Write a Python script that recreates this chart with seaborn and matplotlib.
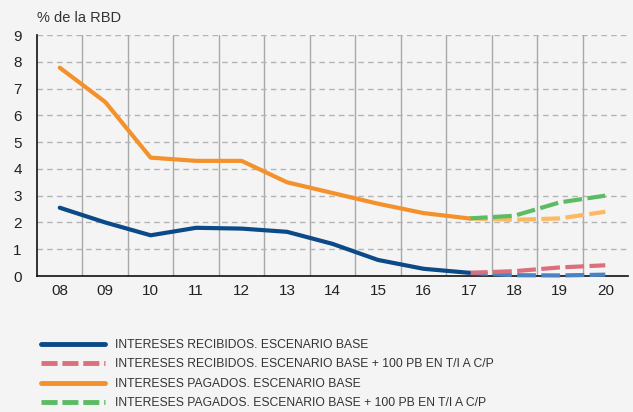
import numpy as np
import pandas as pd
import seaborn as sns
import matplotlib.pyplot as plt
from matplotlib.lines import Line2D

# data
years = ["08", "09", "10", "11", "12", "13", "14", "15", "16", "17", "18", "19", "20"]
hist_years = years[:10]
proj_years = years[9:]

recibidos_base = [2.55, 2.0, 1.52, 1.8, 1.77, 1.65, 1.2, 0.6, 0.27, 0.12]
pagados_base = [7.78, 6.5, 4.42, 4.3, 4.3, 3.5, 3.1, 2.7, 2.35, 2.15]

recibidos_100pb = [0.12, 0.18, 0.32, 0.4]
recibidos_alt = [0.12, 0.03, 0.02, 0.05]
pagados_100pb = [2.15, 2.25, 2.75, 3.0]
pagados_alt = [2.15, 2.1, 2.15, 2.4]

labels = ["INTERESES RECIBIDOS. ESCENARIO BASE",
          "INTERESES RECIBIDOS. ESCENARIO BASE + 100 PB EN T/I A C/P",
          "INTERESES PAGADOS. ESCENARIO BASE",
          "INTERESES PAGADOS. ESCENARIO BASE + 100 PB EN T/I A C/P"]

c_blue = "#0b4a87"
c_pink = "#dc6f7c"
c_orange = "#f5912b"
c_green = "#5dbb63"
c_lblue = "#4a82c3"
c_lorange = "#fdb861"

bg = "#f4f4f4"
sns.set_style("white")
plt.rcParams["font.family"] = ["Liberation Sans", "DejaVu Sans"]

fig = plt.figure(figsize=(6.33, 4.12), dpi=100, facecolor=bg)
ax = fig.add_axes([37 / 633, 1 - 276 / 412, 591 / 633, 241 / 412], facecolor=bg)

xpos = {y: i for i, y in enumerate(years)}
hx = [xpos[y] for y in hist_years]
px = [xpos[y] for y in proj_years]

dash = (4.5, 1.3)
for vals, col in [(recibidos_alt, c_lblue), (recibidos_100pb, c_pink),
                  (pagados_alt, c_lorange), (pagados_100pb, c_green)]:
    sns.lineplot(x=px, y=vals, ax=ax, color=col, lw=3, zorder=5)
    ln = ax.lines[-1]
    ln.set_dashes(dash)
    ln.set_clip_on(False)
sns.lineplot(x=hx, y=recibidos_base, ax=ax, color=c_blue, lw=3, zorder=6)
ax.lines[-1].set_clip_on(False)
sns.lineplot(x=hx, y=pagados_base, ax=ax, color=c_orange, lw=3, zorder=6)

ax.set_xlim(-0.5, len(years) - 0.5)
ax.set_ylim(0, 9)
ax.set_yticks(range(10))
ax.set_xticks(range(len(years)))
ax.set_xticklabels(years)
ax.set_xticks(np.arange(0.5, len(years) - 0.5, 1), minor=True)
ax.tick_params(axis="x", which="major", length=0, labelsize=11, colors="#222222", pad=6)
ax.tick_params(axis="x", which="minor", direction="in", length=4, color="#222222", width=1)
ax.tick_params(axis="y", length=3, labelsize=11, colors="#222222", pad=8)
ax.grid(axis="x", which="minor", color="#a8a8a8", lw=1, ls="-")
ax.grid(axis="y", which="major", color="#b4b4b4", lw=1, ls=(0, (4, 3)))
ax.set_axisbelow(True)
for s in ["top", "right"]:
    ax.spines[s].set_visible(False)
for s in ["left", "bottom"]:
    ax.spines[s].set_color("#111111")
    ax.spines[s].set_linewidth(1.2)
ax.set_xlabel("")
ax.set_ylabel("")

fig.text(37 / 633, 1 - 18 / 412, "% de la RBD", fontsize=10.5, color="#333333", va="center")

handles = [Line2D([], [], color=c_blue, lw=3.5),
           Line2D([], [], color=c_pink, lw=3.5, dashes=(3.3, 1.0)),
           Line2D([], [], color=c_orange, lw=3.5),
           Line2D([], [], color=c_green, lw=3.5, dashes=(3.3, 1.0))]
leg = fig.legend(handles, labels, loc="upper left", bbox_to_anchor=(41 / 633, 1 - 339 / 412),
                 frameon=False, handlelength=5.3, handletextpad=0.85, labelspacing=0.62,
                 borderaxespad=0, borderpad=0,
                 prop={"family": ["Liberation Sans Narrow", "Liberation Sans"], "size": 8.7})
for t in leg.get_texts():
    t.set_color("#333333")

fig.savefig("out.png", dpi=100, facecolor=bg)
